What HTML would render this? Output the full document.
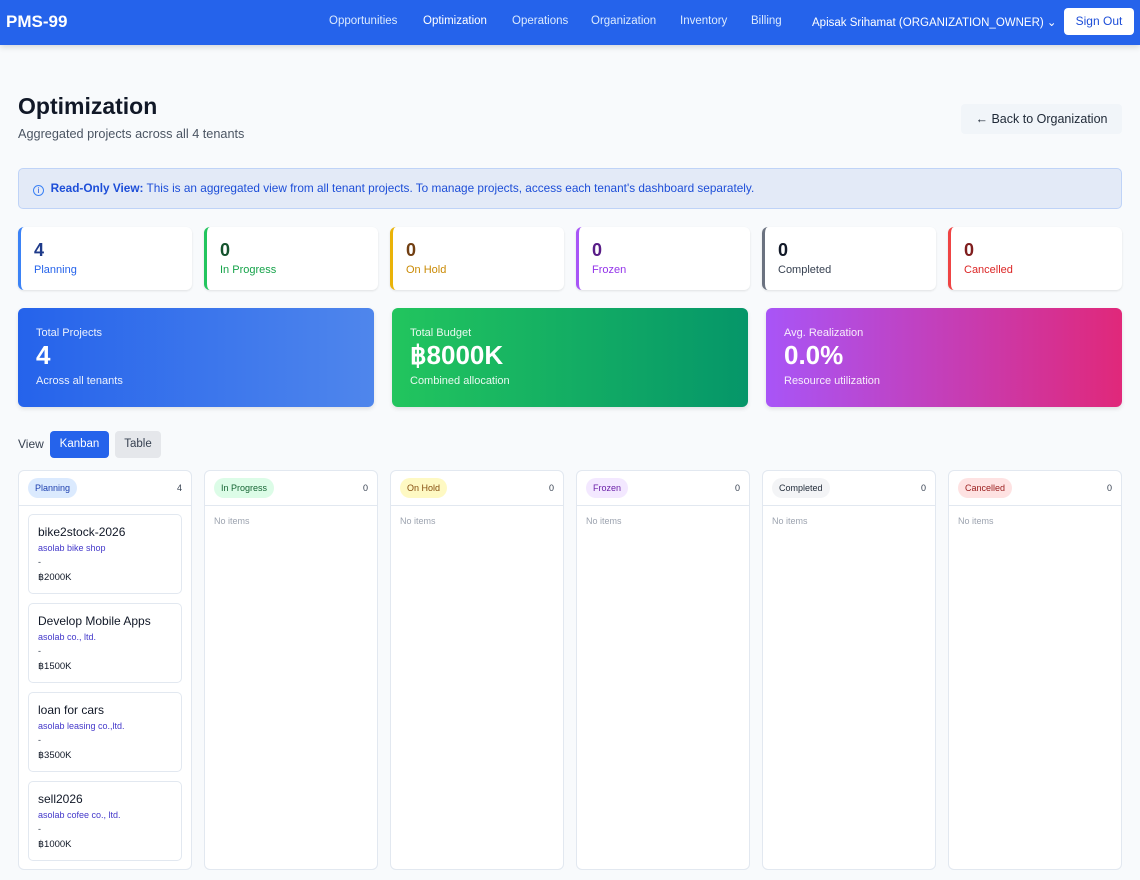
<!DOCTYPE html>
<html><head><meta charset="utf-8"><style>
*{box-sizing:border-box;margin:0;padding:0}
body{width:1140px;height:880px;overflow:hidden;background:#f8fafc;font-family:"Liberation Sans",sans-serif;color:#111827;position:relative}
.nav{position:absolute;top:0;left:0;width:1140px;height:45px;background:#2563eb;box-shadow:0 2px 6px rgba(0,0,0,.15)}
.nav .logo{position:absolute;left:6px;top:12px;color:#fff;font-weight:bold;font-size:17px}
.nav a{position:absolute;top:15px;color:#dbeafe;font-size:11.5px}
.signout{position:absolute;left:1064px;top:8px;width:70px;height:27px;background:#fff;border-radius:4px;color:#1d4ed8;font-size:12px;text-align:center;line-height:27px}
.abs{position:absolute}
.stat{position:absolute;top:227px;width:174px;height:63px;background:#fff;border-radius:6px;border-left:3px solid;box-shadow:0 1px 2px rgba(0,0,0,.1)}
.stat b{position:absolute;left:13px;top:13px;font-size:18px}
.stat span{position:absolute;left:13px;top:37px;font-size:11px}
.big{position:absolute;top:308px;width:356px;height:99px;border-radius:6px;color:#fff;box-shadow:0 2px 4px rgba(0,0,0,.1)}
.big .l{position:absolute;left:18px;top:19px;font-size:11px;opacity:.9}
.big .v{position:absolute;left:18px;top:32px;font-size:26px;font-weight:bold}
.big .s{position:absolute;left:18px;top:67px;font-size:11px;opacity:.9}
.col{position:absolute;top:470px;width:174px;height:400px;background:#fff;border:1px solid #e2e8f0;border-radius:6px}
.col .h{height:35px;border-bottom:1px solid #e2e8f0;position:relative}
.pill{position:absolute;left:9px;top:7px;height:20px;line-height:20px;padding:0 7px;border-radius:10px;font-size:9px}
.cnt{position:absolute;right:9px;top:12px;font-size:9px;color:#374151}
.none{position:absolute;left:9px;top:45px;font-size:9px;color:#9ca3af}
.card{position:absolute;left:9px;width:154px;height:80px;border:1px solid #e2e8f0;border-radius:5px;background:#fff}
.card .t{position:absolute;left:9px;top:10px;font-size:12px}
.card .o{position:absolute;left:9px;top:28px;font-size:9px;color:#4338ca}
.card .d{position:absolute;left:9px;top:42px;font-size:9px;color:#374151}
.card .m{position:absolute;left:9px;top:57px;font-size:9.5px}
</style></head><body>
<div class="nav"><div class="logo">PMS-99</div>
<a style="left:329px">Opportunities</a><a style="left:423px;color:#fff">Optimization</a><a style="left:512px">Operations</a><a style="left:591px">Organization</a><a style="left:680px">Inventory</a><a style="left:751px">Billing</a><a style="left:812px;color:#fff">Apisak Srihamat (ORGANIZATION_OWNER) ⌄</a>
<div class="signout">Sign Out</div></div>
<div class="abs" style="left:18px;top:93px;font-size:23px;font-weight:bold">Optimization</div>
<div class="abs" style="left:18px;top:127px;font-size:12.7px;color:#4b5563">Aggregated projects across all 4 tenants</div>
<div class="abs" style="left:961px;top:104px;width:161px;height:30px;background:#f1f5f9;border-radius:4px;font-size:12.5px;line-height:30px;text-align:center;color:#1f2937">← Back to Organization</div>
<div class="abs" style="left:18px;top:168px;width:1104px;height:41px;background:#e3eaf7;border:1px solid #bfd3f7;border-radius:5px;font-size:11.8px;line-height:39px;color:#1d4ed8;padding-left:14px;white-space:nowrap"><span style="display:inline-block;width:11px;height:11px;border:1.3px solid #3b82f6;border-radius:50%;font-size:8px;line-height:9px;text-align:center;vertical-align:-1px">i</span>&nbsp; <b>Read-Only View:</b> This is an aggregated view from all tenant projects. To manage projects, access each tenant's dashboard separately.</div>
<div class="stat" style="left:18px;border-color:#3b82f6"><b style="color:#1e3a8a">4</b><span style="color:#2563eb">Planning</span></div>
<div class="stat" style="left:204px;border-color:#22c55e"><b style="color:#14532d">0</b><span style="color:#16a34a">In Progress</span></div>
<div class="stat" style="left:390px;border-color:#eab308"><b style="color:#713f12">0</b><span style="color:#ca8a04">On Hold</span></div>
<div class="stat" style="left:576px;border-color:#a855f7"><b style="color:#581c87">0</b><span style="color:#9333ea">Frozen</span></div>
<div class="stat" style="left:762px;border-color:#6b7280"><b style="color:#111827">0</b><span style="color:#374151">Completed</span></div>
<div class="stat" style="left:948px;border-color:#ef4444"><b style="color:#7f1d1d">0</b><span style="color:#dc2626">Cancelled</span></div>
<div class="big" style="left:18px;background:linear-gradient(90deg,#2563eb,#4f86ec)"><div class="l">Total Projects</div><div class="v">4</div><div class="s">Across all tenants</div></div>
<div class="big" style="left:392px;background:linear-gradient(90deg,#22c55e,#059669)"><div class="l">Total Budget</div><div class="v">฿8000K</div><div class="s">Combined allocation</div></div>
<div class="big" style="left:766px;background:linear-gradient(90deg,#a855f7,#e0287a)"><div class="l">Avg. Realization</div><div class="v">0.0%</div><div class="s">Resource utilization</div></div>
<div class="abs" style="left:18px;top:437px;font-size:12px;color:#374151">View</div>
<div class="abs" style="left:50px;top:431px;width:59px;height:27px;background:#2563eb;border-radius:4px;color:#fff;font-size:11.5px;line-height:27px;text-align:center">Kanban</div>
<div class="abs" style="left:115px;top:431px;width:46px;height:27px;background:#e5e7eb;border-radius:4px;color:#374151;font-size:11.5px;line-height:27px;text-align:center">Table</div>
<div class="col" style="left:18px"><div class="h"><span class="pill" style="background:#dbeafe;color:#1e40af">Planning</span><span class="cnt">4</span></div>
<div class="card" style="top:43px"><div class="t">bike2stock-2026</div><div class="o">asolab bike shop</div><div class="d">-</div><div class="m">฿2000K</div></div>
<div class="card" style="top:132px"><div class="t">Develop Mobile Apps</div><div class="o">asolab co., ltd.</div><div class="d">-</div><div class="m">฿1500K</div></div>
<div class="card" style="top:221px"><div class="t">loan for cars</div><div class="o">asolab leasing co.,ltd.</div><div class="d">-</div><div class="m">฿3500K</div></div>
<div class="card" style="top:310px"><div class="t">sell2026</div><div class="o">asolab cofee co., ltd.</div><div class="d">-</div><div class="m">฿1000K</div></div>
</div>
<div class="col" style="left:204px"><div class="h"><span class="pill" style="background:#dcfce7;color:#166534">In Progress</span><span class="cnt">0</span></div><div class="none">No items</div></div>
<div class="col" style="left:390px"><div class="h"><span class="pill" style="background:#fef9c3;color:#854d0e">On Hold</span><span class="cnt">0</span></div><div class="none">No items</div></div>
<div class="col" style="left:576px"><div class="h"><span class="pill" style="background:#f3e8ff;color:#6b21a8">Frozen</span><span class="cnt">0</span></div><div class="none">No items</div></div>
<div class="col" style="left:762px"><div class="h"><span class="pill" style="background:#f3f4f6;color:#1f2937">Completed</span><span class="cnt">0</span></div><div class="none">No items</div></div>
<div class="col" style="left:948px"><div class="h"><span class="pill" style="background:#fee2e2;color:#991b1b">Cancelled</span><span class="cnt">0</span></div><div class="none">No items</div></div>
</body></html>
